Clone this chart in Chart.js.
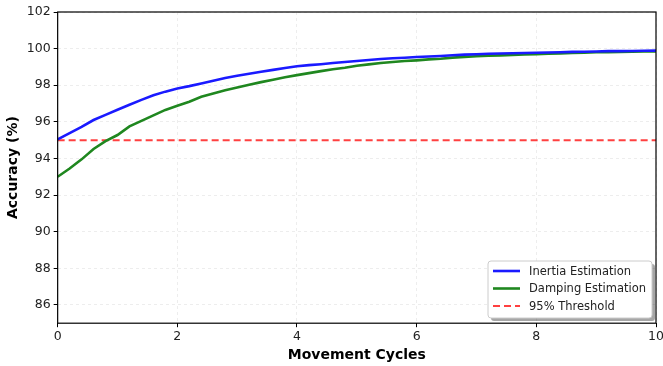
<!DOCTYPE html>
<html><head><meta charset="utf-8">
<script src="https://cdn.jsdelivr.net/npm/chart.js@4"></script>
<style>html,body{margin:0;padding:0;background:#fff}#wrap{width:663px;height:366px}</style>
</head><body><div id="wrap"><canvas id="c" width="663" height="366"></canvas></div>
<script>
const cycles = [0,0.2,0.4,0.6,0.8,1,1.2,1.4,1.6,1.8,2,2.2,2.4,2.6,2.8,3,3.2,3.4,3.6,3.8,4,4.2,4.4,4.6,4.8,5,5.2,5.4,5.6,5.8,6,6.2,6.4,6.6,6.8,7,7.2,7.4,7.6,7.8,8,8.2,8.4,8.6,8.8,9,9.2,9.4,9.6,9.8,10];
const inertia = [95.04,95.38,95.72,96.10,96.38,96.66,96.93,97.20,97.45,97.65,97.82,97.95,98.10,98.25,98.40,98.52,98.63,98.74,98.84,98.94,99.04,99.10,99.15,99.21,99.27,99.32,99.38,99.43,99.47,99.50,99.54,99.57,99.60,99.64,99.67,99.69,99.72,99.73,99.75,99.76,99.77,99.79,99.80,99.82,99.83,99.84,99.86,99.86,99.87,99.88,99.89];
const damping = [93.00,93.45,93.95,94.52,94.95,95.28,95.75,96.05,96.35,96.65,96.88,97.10,97.37,97.55,97.72,97.87,98.02,98.17,98.30,98.44,98.55,98.66,98.77,98.87,98.95,99.06,99.14,99.21,99.27,99.32,99.36,99.41,99.45,99.51,99.55,99.58,99.61,99.63,99.66,99.68,99.70,99.72,99.74,99.76,99.78,99.80,99.81,99.82,99.83,99.84,99.85];
const thresholdX = [0,10];
const thresholdValue = 95;
const yTicks = [86,88,90,92,94,96,98,100,102];
const xTicks = [0,2,4,6,8,10];
const seriesLabels = ['Inertia Estimation','Damping Estimation','95% Threshold'];

const FONT = "'DejaVu Sans', sans-serif";

const framePlugin = {
  id: 'frame',
  afterDraw(chart) {
    const {ctx, chartArea: a} = chart;
    ctx.save();
    ctx.strokeStyle = '#000';
    ctx.lineWidth = 1.2;
    ctx.setLineDash([]);
    ctx.strokeRect(a.left, a.top, a.right - a.left, a.bottom - a.top);
    // legend
    const bx = 488, by = 261, bw = 164, bh = 57;
    ctx.fillStyle = 'rgba(0,0,0,0.35)';
    ctx.beginPath(); ctx.roundRect(bx + 3, by + 3, bw, bh, 3); ctx.fill();
    ctx.fillStyle = '#fff';
    ctx.strokeStyle = '#cccccc';
    ctx.lineWidth = 1;
    ctx.beginPath(); ctx.roundRect(bx, by, bw, bh, 3); ctx.fill(); ctx.stroke();
    ctx.font = '11.5px ' + FONT;
    ctx.textBaseline = 'middle';
    chart.data.datasets.forEach((ds, i) => {
      const y = by + 10 + i * 17.5;
      ctx.strokeStyle = ds.borderColor;
      ctx.lineWidth = ds.borderWidth;
      ctx.setLineDash(ds.borderDash || []);
      ctx.beginPath(); ctx.moveTo(bx + 5, y); ctx.lineTo(bx + 32, y); ctx.stroke();
      ctx.setLineDash([]);
      ctx.fillStyle = '#222';
      ctx.fillText(ds.label, bx + 41, y + 1);
    });
    ctx.restore();
  }
};

new Chart(document.getElementById('c'), {
  type: 'line',
  data: {
    datasets: [
      { label: seriesLabels[0], data: cycles.map((x, i) => ({x, y: inertia[i]})), borderColor: '#1a1aff', borderWidth: 2.6, pointRadius: 0, tension: 0 },
      { label: seriesLabels[1], data: cycles.map((x, i) => ({x, y: damping[i]})), borderColor: '#1f871f', borderWidth: 2.6, pointRadius: 0, tension: 0 },
      { label: seriesLabels[2], data: thresholdX.map(x => ({x, y: thresholdValue})), borderColor: 'rgba(255,30,30,0.85)', borderWidth: 2, borderDash: [7,4], pointRadius: 0 }
    ]
  },
  options: {
    responsive: false,
    animation: false,
    layout: { padding: { left: 1, right: 7, top: 12, bottom: 2 } },
    plugins: { legend: { display: false }, tooltip: { enabled: false } },
    scales: {
      x: {
        type: 'linear', min: 0, max: 10,
        afterBuildTicks: s => { s.ticks = xTicks.map(v => ({value: v})); },
        afterFit: s => { s.paddingRight = 0; },
        grid: { color: 'rgba(0,0,0,0.07)', tickColor: '#000', tickLength: 4, lineWidth: 1 },
        border: { display: false, dash: [3,3] },
        ticks: { color: '#222', font: { size: 12.5, family: FONT }, padding: 2, maxRotation: 0 },
        title: { display: true, text: 'Movement Cycles', color: '#000', font: { size: 14, weight: 'bold', family: FONT }, padding: { top: 1, bottom: 0 } }
      },
      y: {
        min: 85, max: 102,
        afterBuildTicks: s => { s.ticks = yTicks.map(v => ({value: v})); },
        grid: { color: 'rgba(0,0,0,0.07)', tickColor: '#000', tickLength: 4, lineWidth: 1 },
        border: { display: false, dash: [3,3] },
        ticks: { color: '#222', font: { size: 12.5, family: FONT }, padding: 3 },
        title: { display: true, text: 'Accuracy (%)', color: '#000', font: { size: 14, weight: 'bold', family: FONT }, padding: { bottom: 2 } }
      }
    }
  },
  plugins: [framePlugin]
});
</script></body></html>
